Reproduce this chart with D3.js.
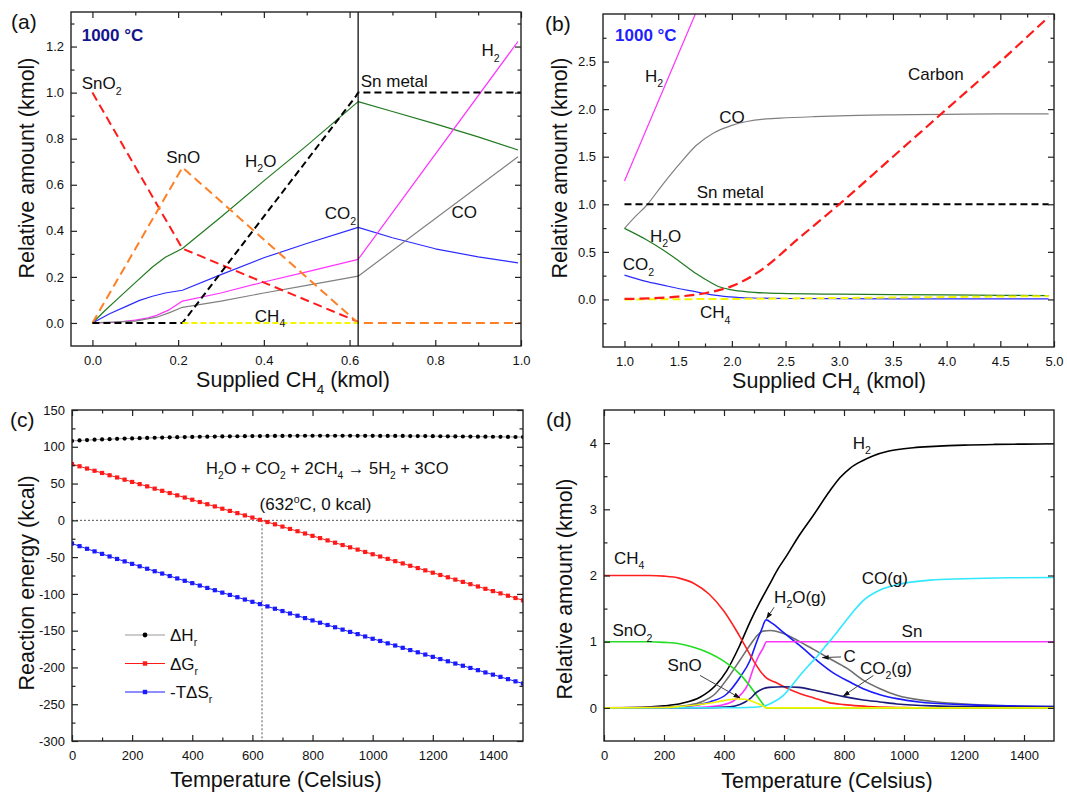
<!doctype html>
<html>
<head>
<meta charset="utf-8">
<title>SnO2 / CH4 equilibrium</title>
<script src="https://cdn.jsdelivr.net/npm/d3@7"></script>
<style>
  body { margin: 0; background: #fff; }
  svg { display: block; font-family: 'Liberation Sans', Arial, sans-serif; }
</style>
</head>
<body>
<svg width="1067" height="792"></svg>
<script>
// ---------- (a) 1000 C, supplied CH4 0..1 kmol ----------
var aSnO2 = [[0, 1.0], [0.21, 0.323], [0.62, 0.005]];
var aSnO = [[0, 0], [0.21, 0.675], [0.62, 0.0], [1.0, 0.0]];
var aSn = [[0, 0], [0.21, 0], [0.615, 0.985], [0.62, 1.0], [1.0, 1.0]];
var aCH4 = [[0.21, 0], [0.62, 0]];
var aH2O = [[0, 0], [0.03, 0.055], [0.06, 0.107], [0.1, 0.175], [0.14, 0.243], [0.17, 0.285], [0.21, 0.323], [0.3, 0.46], [0.4, 0.617], [0.5, 0.77], [0.62, 0.961], [0.7, 0.918], [0.8, 0.864], [0.9, 0.808], [0.993, 0.751]];
var aCO2 = [[0, 0], [0.04, 0.04], [0.08, 0.073], [0.11, 0.098], [0.14, 0.116], [0.17, 0.13], [0.21, 0.142], [0.3, 0.21], [0.4, 0.283], [0.5, 0.345], [0.62, 0.415], [0.7, 0.37], [0.8, 0.322], [0.9, 0.287], [0.993, 0.261]];
var aH2 = [[0, 0], [0.05, 0.002], [0.1, 0.012], [0.13, 0.022], [0.15, 0.033], [0.18, 0.058], [0.21, 0.095], [0.3, 0.13], [0.4, 0.178], [0.5, 0.222], [0.62, 0.276], [0.993, 1.222]];
var aCO = [[0, 0], [0.1, 0.008], [0.15, 0.025], [0.18, 0.045], [0.21, 0.068], [0.3, 0.095], [0.4, 0.13], [0.5, 0.163], [0.62, 0.203], [0.993, 0.722]];
var aDivider = 0.62;

// ---------- (b) 1000 C, supplied CH4 1..5 kmol ----------
var bH2 = [[1.0, 1.245], [1.66, 3.0]];
var bCO = [[1.0, 0.747], [1.1, 0.87], [1.207, 0.99], [1.35, 1.2], [1.517, 1.43], [1.67, 1.62], [1.83, 1.75], [2.0, 1.83], [2.14, 1.87], [2.3, 1.895], [2.45, 1.905], [2.75, 1.92], [3.0, 1.93], [3.5, 1.94], [4.0, 1.945], [4.5, 1.95], [4.95, 1.95]];
var bSn = [[1.0, 1.0], [4.95, 1.0]];
var bCarbon = [[1.0, 0.005], [1.25, 0.012], [1.5, 0.03], [1.75, 0.065], [2.0, 0.14], [2.15, 0.22], [2.3, 0.33], [2.45, 0.47], [2.6, 0.62], [2.8, 0.81], [3.0, 1.0], [3.5, 1.5], [4.0, 2.0], [4.5, 2.5], [4.95, 2.97]];
var bH2O = [[1.0, 0.747], [1.2, 0.63], [1.36, 0.52], [1.5, 0.41], [1.67, 0.27], [1.8, 0.18], [1.89, 0.13], [2.0, 0.1], [2.14, 0.08], [2.3, 0.068], [2.45, 0.063], [3.0, 0.055], [3.5, 0.05], [4.0, 0.047], [4.5, 0.043], [4.95, 0.04]];
var bCO2 = [[1.0, 0.256], [1.2, 0.19], [1.36, 0.15], [1.5, 0.115], [1.67, 0.08], [1.8, 0.05], [1.98, 0.027], [2.2, 0.015], [2.5, 0.01], [3.0, 0.008], [4.0, 0.006], [4.95, 0.005]];
var bCH4 = [[1.0, 0.0], [2.0, 0.005], [3.0, 0.015], [4.0, 0.025], [4.95, 0.035]];

// ---------- (c) reaction energies ----------
var cTemp = [0, 25, 50, 75, 100, 125, 150, 175, 200, 225, 250, 275, 300, 325, 350, 375, 400, 425, 450, 475, 500, 525, 550, 575, 600, 625, 650, 675, 700, 725, 750, 775, 800, 825, 850, 875, 900, 925, 950, 975, 1000, 1025, 1050, 1075, 1100, 1125, 1150, 1175, 1200, 1225, 1250, 1275, 1300, 1325, 1350, 1375, 1400, 1425, 1450, 1475, 1500];
var cDH = [108.0, 108.6, 109.1, 109.6, 110.0, 110.4, 110.8, 111.1, 111.4, 111.7, 112.0, 112.3, 112.5, 112.8, 113.0, 113.2, 113.4, 113.6, 113.8, 113.9, 114.1, 114.2, 114.3, 114.4, 114.5, 114.6, 114.7, 114.8, 114.8, 114.9, 114.9, 115.0, 115.0, 115.0, 115.0, 115.0, 115.0, 115.0, 114.9, 114.9, 114.9, 114.8, 114.8, 114.7, 114.7, 114.6, 114.5, 114.5, 114.4, 114.3, 114.2, 114.1, 114.0, 113.9, 113.8, 113.7, 113.6, 113.5, 113.4, 113.3, 113.2];
var cDG = [76.5, 73.5, 70.4, 67.4, 64.4, 61.3, 58.3, 55.3, 52.2, 49.2, 46.2, 43.1, 40.1, 37.1, 34.0, 31.0, 28.0, 24.9, 21.9, 18.9, 15.8, 12.8, 9.8, 6.7, 3.7, 0.7, -2.3, -5.4, -8.5, -11.7, -14.8, -17.9, -21.1, -24.2, -27.3, -30.4, -33.6, -36.7, -39.8, -43.0, -46.1, -49.2, -52.4, -55.5, -58.6, -61.8, -64.9, -68.0, -71.2, -74.3, -77.4, -80.6, -83.7, -86.8, -89.9, -93.1, -96.2, -99.3, -102.5, -105.6, -108.7];
var cTDS = [-31.5, -35.1, -38.7, -42.2, -45.6, -49.1, -52.5, -55.8, -59.2, -62.5, -65.8, -69.2, -72.4, -75.7, -79.0, -82.2, -85.4, -88.7, -91.9, -95.0, -98.3, -101.4, -104.5, -107.7, -110.8, -113.9, -117.0, -120.2, -123.3, -126.6, -129.7, -132.9, -136.1, -139.2, -142.3, -145.4, -148.6, -151.7, -154.7, -157.9, -161.0, -164.0, -167.2, -170.2, -173.3, -176.4, -179.4, -182.5, -185.6, -188.6, -191.6, -194.7, -197.7, -200.7, -203.7, -206.8, -209.8, -212.8, -215.9, -218.9, -221.9];
var cZeroT = 632;

// ---------- (d) amounts vs temperature ----------
var dH2 = [[0, 0], [100, 0.005], [200, 0.03], [260, 0.07], [320, 0.16], [370, 0.33], [409, 0.56], [450, 0.92], [487, 1.3], [520, 1.6], [550, 1.85], [580, 2.1], [609, 2.3], [650, 2.6], [698, 2.91], [753, 3.28], [787, 3.48], [820, 3.62], [860, 3.73], [898, 3.81], [950, 3.88], [1031, 3.93], [1100, 3.95], [1200, 3.97], [1300, 3.98], [1400, 3.985], [1500, 3.99]];
var dCH4 = [[0, 2.0], [150, 2.0], [200, 1.99], [250, 1.96], [300, 1.88], [350, 1.72], [400, 1.46], [450, 1.1], [500, 0.7], [525, 0.53], [542, 0.45], [570, 0.39], [600, 0.32], [650, 0.22], [700, 0.15], [750, 0.08], [800, 0.05], [850, 0.03], [900, 0.015], [1000, 0.005], [1100, 0], [1500, 0]];
var dSnO2 = [[0, 1.0], [150, 1.0], [200, 0.99], [250, 0.97], [309, 0.9], [350, 0.83], [398, 0.71], [453, 0.51], [498, 0.26], [526, 0.08], [542, 0], [1500, 0]];
var dSnO = [[0, 0], [200, 0.005], [250, 0.02], [300, 0.04], [350, 0.07], [400, 0.11], [442, 0.135], [470, 0.13], [500, 0.09], [525, 0.04], [542, 0], [1500, 0]];
var dSn = [[0, 0], [300, 0.005], [350, 0.015], [400, 0.05], [430, 0.1], [460, 0.22], [480, 0.36], [498, 0.6], [515, 0.78], [530, 0.9], [542, 1.0], [1500, 1.0]];
var dH2O = [[0, 0], [200, 0.005], [287, 0.03], [353, 0.09], [409, 0.21], [453, 0.46], [487, 0.72], [509, 1.0], [525, 1.18], [540, 1.33], [560, 1.28], [598, 1.14], [653, 0.94], [709, 0.72], [764, 0.53], [820, 0.39], [864, 0.29], [920, 0.2], [976, 0.14], [1050, 0.09], [1198, 0.05], [1350, 0.03], [1500, 0.02]];
var dC = [[0, 0], [200, 0.01], [280, 0.04], [330, 0.1], [370, 0.21], [414, 0.46], [453, 0.72], [487, 0.95], [510, 1.09], [530, 1.16], [555, 1.17], [600, 1.12], [653, 1.0], [700, 0.88], [750, 0.75], [809, 0.6], [864, 0.42], [920, 0.29], [976, 0.19], [1087, 0.1], [1198, 0.06], [1350, 0.03], [1500, 0.02]];
var dCO2 = [[0, 0], [350, 0.003], [420, 0.015], [453, 0.05], [487, 0.14], [510, 0.24], [530, 0.29], [550, 0.31], [600, 0.32], [650, 0.31], [709, 0.26], [760, 0.21], [800, 0.17], [864, 0.12], [920, 0.09], [976, 0.06], [1100, 0.03], [1300, 0.015], [1500, 0.01]];
var dCO = [[0, 0], [400, 0.002], [500, 0.01], [542, 0.04], [570, 0.1], [598, 0.19], [625, 0.33], [653, 0.49], [680, 0.63], [709, 0.77], [736, 0.92], [764, 1.07], [800, 1.28], [830, 1.45], [864, 1.62], [920, 1.78], [976, 1.86], [1087, 1.93], [1200, 1.95], [1350, 1.965], [1500, 1.97]];

var svg = d3.select('svg');
var defs = svg.append('defs');
defs.append('marker')
    .attr('id', 'arrowhead')
    .attr('viewBox', '0 0 10 10')
    .attr('refX', 9)
    .attr('refY', 5)
    .attr('markerWidth', 7)
    .attr('markerHeight', 7)
    .attr('orient', 'auto')
  .append('path')
    .attr('d', 'M0,1.5L10,5L0,8.5Z')
    .attr('fill', '#111');

// text with _x subscripts and ^x superscripts
function richText(text, str, size) {
  var parts = [], i, ch;
  for (i = 0; i < str.length; i++) {
    ch = str[i];
    if ((ch === '_' || ch === '^') && i + 1 < str.length) {
      parts.push({t: str[i + 1], k: ch});
      i++;
    } else if (parts.length && parts[parts.length - 1].k === 'n') {
      parts[parts.length - 1].t += ch;
    } else {
      parts.push({t: ch, k: 'n'});
    }
  }
  var shift = 0;
  parts.forEach(function(p) {
    var off = p.k === '_' ? size * 0.32 : (p.k === '^' ? -size * 0.42 : 0);
    text.append('tspan')
      .attr('dy', off - shift)
      .attr('font-size', p.k === 'n' ? size : size * 0.62)
      .text(p.t);
    shift = off;
  });
  return text;
}

function makePanel(c) {
  var x = d3.scaleLinear().domain(c.xDomain).range([c.left, c.right]);
  var y = d3.scaleLinear().domain(c.yDomain).range([c.bottom, c.top]);
  defs.append('clipPath').attr('id', 'clip-' + c.id)
    .append('rect')
      .attr('x', c.left).attr('y', c.top)
      .attr('width', c.right - c.left).attr('height', c.bottom - c.top);
  var g = svg.append('g');
  var plot = g.append('g').attr('clip-path', 'url(#clip-' + c.id + ')');
  return {c: c, x: x, y: y, g: g, plot: plot};
}

function styleAxis(sel) {
  sel.select('.domain').remove();
  sel.attr('font-family', null).attr('font-size', 13);
  sel.selectAll('line').attr('stroke', '#222').attr('stroke-width', 1.2);
  sel.selectAll('text').attr('fill', '#111');
}

function drawAxes(P) {
  var c = P.c, g = P.g.append('g');
  var none = function() { return ''; };
  g.append('g').attr('transform', 'translate(0,' + c.bottom + ')')
    .call(d3.axisBottom(P.x).tickValues(c.xMajor).tickFormat(c.xFmt).tickSizeInner(-6).tickSizeOuter(0).tickPadding(10))
    .call(styleAxis);
  g.append('g').attr('transform', 'translate(0,' + c.bottom + ')')
    .call(d3.axisBottom(P.x).tickValues(c.xMinor).tickFormat(none).tickSizeInner(-3.5).tickSizeOuter(0))
    .call(styleAxis);
  g.append('g').attr('transform', 'translate(0,' + c.top + ')')
    .call(d3.axisTop(P.x).tickValues(c.xMajor).tickFormat(none).tickSizeInner(-6).tickSizeOuter(0))
    .call(styleAxis);
  g.append('g').attr('transform', 'translate(0,' + c.top + ')')
    .call(d3.axisTop(P.x).tickValues(c.xMinor).tickFormat(none).tickSizeInner(-3.5).tickSizeOuter(0))
    .call(styleAxis);
  g.append('g').attr('transform', 'translate(' + c.left + ',0)')
    .call(d3.axisLeft(P.y).tickValues(c.yMajor).tickFormat(c.yFmt).tickSizeInner(-6).tickSizeOuter(0).tickPadding(7))
    .call(styleAxis);
  g.append('g').attr('transform', 'translate(' + c.left + ',0)')
    .call(d3.axisLeft(P.y).tickValues(c.yMinor).tickFormat(none).tickSizeInner(-3.5).tickSizeOuter(0))
    .call(styleAxis);
  g.append('g').attr('transform', 'translate(' + c.right + ',0)')
    .call(d3.axisRight(P.y).tickValues(c.yMajor).tickFormat(none).tickSizeInner(-6).tickSizeOuter(0))
    .call(styleAxis);
  g.append('g').attr('transform', 'translate(' + c.right + ',0)')
    .call(d3.axisRight(P.y).tickValues(c.yMinor).tickFormat(none).tickSizeInner(-3.5).tickSizeOuter(0))
    .call(styleAxis);

  g.append('rect')
    .attr('x', c.left).attr('y', c.top)
    .attr('width', c.right - c.left).attr('height', c.bottom - c.top)
    .attr('fill', 'none').attr('stroke', '#222').attr('stroke-width', 1.4);

  richText(g.append('text')
      .attr('x', c.xTitle[0]).attr('y', c.xTitle[1])
      .attr('text-anchor', 'middle').attr('fill', '#111'), c.xLabel, 21.5);
  richText(g.append('text')
      .attr('transform', 'translate(' + c.yTitle[0] + ',' + c.yTitle[1] + ') rotate(-90)')
      .attr('text-anchor', 'middle').attr('fill', '#111'), c.yLabel, 21.5);
  g.append('text')
    .attr('x', c.tag[0]).attr('y', c.tag[1])
    .attr('font-size', 21).attr('fill', '#111')
    .text(c.tagText);
}

function drawSeries(P, data, st) {
  var line = d3.line()
    .x(function(d) { return P.x(d[0]); })
    .y(function(d) { return P.y(d[1]); })
    .curve(st.curve || d3.curveLinear);
  P.plot.append('path')
    .datum(data)
    .attr('fill', 'none')
    .attr('stroke', st.color)
    .attr('stroke-width', st.width || 1.2)
    .attr('stroke-dasharray', st.dash || null)
    .attr('stroke-linejoin', 'round')
    .attr('d', line);
}

function addLabels(P, list, size) {
  list.forEach(function(l) {
    var t = P.g.append('text')
      .attr('x', P.x(l[1])).attr('y', P.y(l[2]))
      .attr('fill', l[3] || '#111');
    if (l[4]) t.attr('font-weight', 'bold');
    richText(t, l[0], l[4] ? 17 : size);
  });
}

var fmt1 = d3.format('.1f');
var fmtInt = function(d) { return String(d); };
var smooth = d3.curveMonotoneX;

// ================= panel (a) =================
var A = makePanel({
  id: 'a', left: 71, right: 521, top: 12, bottom: 346,
  xDomain: [-0.05, 1.0], yDomain: [-0.1, 1.35],
  xMajor: [0, 0.2, 0.4, 0.6, 0.8, 1.0], xMinor: [0.1, 0.3, 0.5, 0.7, 0.9],
  yMajor: [0, 0.2, 0.4, 0.6, 0.8, 1.0, 1.2], yMinor: [0.1, 0.3, 0.5, 0.7, 0.9, 1.1, 1.3],
  xFmt: fmt1, yFmt: fmt1,
  xLabel: 'Supplied CH_4 (kmol)', yLabel: 'Relative amount (kmol)',
  xTitle: [293, 387], yTitle: [34, 168], tag: [11, 29], tagText: '(a)'
});
drawSeries(A, aH2O, {color: '#217a21'});
drawSeries(A, aCO2, {color: '#2b2bff'});
drawSeries(A, aH2, {color: '#ff33ff'});
drawSeries(A, aCO, {color: '#808080'});
drawSeries(A, aSnO2, {color: '#ff1a1a', width: 2, dash: '9,5'});
drawSeries(A, aSnO, {color: '#ff7f24', width: 2, dash: '9,5'});
drawSeries(A, aSn, {color: '#000', width: 2, dash: '7,4'});
drawSeries(A, aCH4, {color: '#f5f500', width: 2, dash: '6,3'});
A.plot.append('line')
  .attr('x1', A.x(aDivider)).attr('x2', A.x(aDivider))
  .attr('y1', A.c.top).attr('y2', A.c.bottom)
  .attr('stroke', '#111').attr('stroke-width', 1.3);
drawAxes(A);
addLabels(A, [
  ['1000 \u00B0C', -0.025, 1.225, '#14148c', true],
  ['SnO_2', -0.025, 1.015],
  ['SnO', 0.172, 0.693],
  ['H_2O', 0.356, 0.678],
  ['CH_4', 0.379, 0.004],
  ['Sn metal', 0.626, 1.026],
  ['H_2', 0.908, 1.157],
  ['CO_2', 0.542, 0.45],
  ['CO', 0.838, 0.454]
], 17);

// ================= panel (b) =================
var B = makePanel({
  id: 'b', left: 603, right: 1054, top: 14, bottom: 347,
  xDomain: [0.8, 5.0], yDomain: [-0.5, 3.0],
  xMajor: [1, 1.5, 2, 2.5, 3, 3.5, 4, 4.5, 5], xMinor: [1.25, 1.75, 2.25, 2.75, 3.25, 3.75, 4.25, 4.75],
  yMajor: [0, 0.5, 1, 1.5, 2, 2.5], yMinor: [-0.25, 0.25, 0.75, 1.25, 1.75, 2.25, 2.75],
  xFmt: fmt1, yFmt: fmt1,
  xLabel: 'Supplied CH_4 (kmol)', yLabel: 'Relative amount (kmol)',
  xTitle: [829, 388], yTitle: [567, 168], tag: [545, 31], tagText: '(b)'
});
drawSeries(B, bH2, {color: '#ff33ff'});
drawSeries(B, bCO, {color: '#808080', curve: smooth});
drawSeries(B, bH2O, {color: '#217a21', curve: smooth});
drawSeries(B, bCO2, {color: '#2b2bff', curve: smooth});
drawSeries(B, bSn, {color: '#000', width: 2, dash: '7,4'});
drawSeries(B, bCH4, {color: '#f5f500', width: 2, dash: '8,4'});
drawSeries(B, bCarbon, {color: '#ff1a1a', width: 2.2, dash: '10,5', curve: smooth});
drawAxes(B);
addLabels(B, [
  ['1000 \u00B0C', 0.912, 2.72, '#1f1fff', true],
  ['H_2', 1.19, 2.29],
  ['CO', 1.883, 1.853],
  ['Carbon', 3.64, 2.31],
  ['Sn metal', 1.672, 1.063],
  ['H_2O', 1.237, 0.606],
  ['CO_2', 0.983, 0.308],
  ['CH_4', 1.703, -0.2]
], 17);

// ================= panel (c) =================
var C = makePanel({
  id: 'c', left: 72, right: 523, top: 410, bottom: 741,
  xDomain: [0, 1500], yDomain: [-300, 150],
  xMajor: [0, 200, 400, 600, 800, 1000, 1200, 1400], xMinor: [100, 300, 500, 700, 900, 1100, 1300],
  yMajor: [-300, -250, -200, -150, -100, -50, 0, 50, 100, 150],
  yMinor: [-275, -225, -175, -125, -75, -25, 25, 75, 125],
  xFmt: fmtInt, yFmt: fmtInt,
  xLabel: 'Temperature (Celsius)', yLabel: 'Reaction energy (kcal)',
  xTitle: [276, 787], yTitle: [34, 583], tag: [10, 427], tagText: '(c)'
});
C.plot.append('line')
  .attr('x1', C.x(0)).attr('x2', C.x(1500))
  .attr('y1', C.y(0)).attr('y2', C.y(0))
  .attr('stroke', '#555').attr('stroke-width', 1).attr('stroke-dasharray', '2,2');
C.plot.append('line')
  .attr('x1', C.x(cZeroT)).attr('x2', C.x(cZeroT))
  .attr('y1', C.y(0)).attr('y2', C.y(-300))
  .attr('stroke', '#555').attr('stroke-width', 1).attr('stroke-dasharray', '2,2');

var cSeries = [
  {name: '\u0394H_r', vals: cDH, color: '#000', line: '#999', shape: 'circle'},
  {name: '\u0394G_r', vals: cDG, color: '#ff1a1a', line: '#ff1a1a', shape: 'square'},
  {name: '-T\u0394S_r', vals: cTDS, color: '#1a1aff', line: '#1a1aff', shape: 'square'}
];
cSeries.forEach(function(s) {
  var pts = cTemp.map(function(t, i) { return [t, s.vals[i]]; });
  drawSeries(C, pts, {color: s.line, width: 1});
  var m = C.plot.append('g').selectAll('.m').data(pts).enter();
  if (s.shape === 'circle') {
    m.append('circle')
      .attr('cx', function(d) { return C.x(d[0]); })
      .attr('cy', function(d) { return C.y(d[1]); })
      .attr('r', 2.1).attr('fill', s.color);
  } else {
    m.append('rect')
      .attr('x', function(d) { return C.x(d[0]) - 2.1; })
      .attr('y', function(d) { return C.y(d[1]) - 2.1; })
      .attr('width', 4.2).attr('height', 4.2).attr('fill', s.color);
  }
});
drawAxes(C);

var legend = C.g.append('g')
  .selectAll('g')
  .data(cSeries)
  .enter().append('g')
  .attr('transform', function(d, i) { return 'translate(' + (C.c.left + 53) + ',' + (C.c.top + 225 + i * 28.5) + ')'; });
legend.append('line')
  .attr('x1', 0).attr('x2', 40)
  .attr('stroke', function(d) { return d.line; }).attr('stroke-width', 1);
legend.each(function(d) {
  var sel = d3.select(this);
  if (d.shape === 'circle') {
    sel.append('circle').attr('cx', 20).attr('r', 2.4).attr('fill', d.color);
  } else {
    sel.append('rect').attr('x', 17.8).attr('y', -2.2).attr('width', 4.4).attr('height', 4.4).attr('fill', d.color);
  }
  richText(sel.append('text').attr('x', 45).attr('y', 6).attr('fill', '#111'), d.name, 17);
});

richText(C.g.append('text')
    .attr('x', C.x(446)).attr('y', C.y(63.5)).attr('fill', '#111'),
  'H_2O + CO_2 + 2CH_4 \u2192 5H_2 + 3CO', 16.5);
richText(C.g.append('text')
    .attr('x', C.x(624)).attr('y', C.y(14.5)).attr('fill', '#111'),
  '(632^oC, 0 kcal)', 17);

// ================= panel (d) =================
var D = makePanel({
  id: 'd', left: 604, right: 1054, top: 410, bottom: 741,
  xDomain: [0, 1500], yDomain: [-0.5, 4.5],
  xMajor: [0, 200, 400, 600, 800, 1000, 1200, 1400], xMinor: [100, 300, 500, 700, 900, 1100, 1300],
  yMajor: [0, 1, 2, 3, 4], yMinor: [0.5, 1.5, 2.5, 3.5],
  xFmt: fmtInt, yFmt: fmtInt,
  xLabel: 'Temperature (Celsius)', yLabel: 'Relative amount (kmol)',
  xTitle: [827, 788], yTitle: [572, 589], tag: [546, 427], tagText: '(d)'
});
drawSeries(D, dH2, {color: '#000', width: 1.6, curve: smooth});
drawSeries(D, dC, {color: '#6e6e6e', width: 1.6, curve: smooth});
drawSeries(D, dH2O, {color: '#1a1aff', width: 1.6, curve: smooth});
drawSeries(D, dSn, {color: '#ff33ff', width: 1.6, curve: smooth});
drawSeries(D, dCH4, {color: '#ff2020', width: 1.6, curve: smooth});
drawSeries(D, dSnO2, {color: '#22dd22', width: 1.6, curve: smooth});
drawSeries(D, dCO2, {color: '#1a1a7a', width: 1.6, curve: smooth});
drawSeries(D, dCO, {color: '#30e8ff', width: 1.6, curve: smooth});
drawSeries(D, dSnO, {color: '#f2f200', width: 1.6, curve: smooth});
drawAxes(D);
addLabels(D, [
  ['H_2', 829, 3.91],
  ['CH_4', 33, 2.18],
  ['SnO_2', 28, 1.08],
  ['SnO', 212, 0.55],
  ['H_2O(g)', 567, 1.59],
  ['CO(g)', 859, 1.875],
  ['Sn', 992, 1.07],
  ['C', 798, 0.69],
  ['CO_2(g)', 853, 0.515]
], 17);

var dArrows = [
  [[320, 0.49], [453, 0.15]],
  [[567, 1.52], [542, 1.35]],
  [[790, 0.77], [728, 0.76]],
  [[898, 0.49], [798, 0.18]]
];
D.g.append('g').selectAll('line')
  .data(dArrows)
  .enter().append('line')
  .attr('x1', function(d) { return D.x(d[0][0]); })
  .attr('y1', function(d) { return D.y(d[0][1]); })
  .attr('x2', function(d) { return D.x(d[1][0]); })
  .attr('y2', function(d) { return D.y(d[1][1]); })
  .attr('stroke', '#444').attr('stroke-width', 1)
  .attr('marker-end', 'url(#arrowhead)');
</script>
</body>
</html>
